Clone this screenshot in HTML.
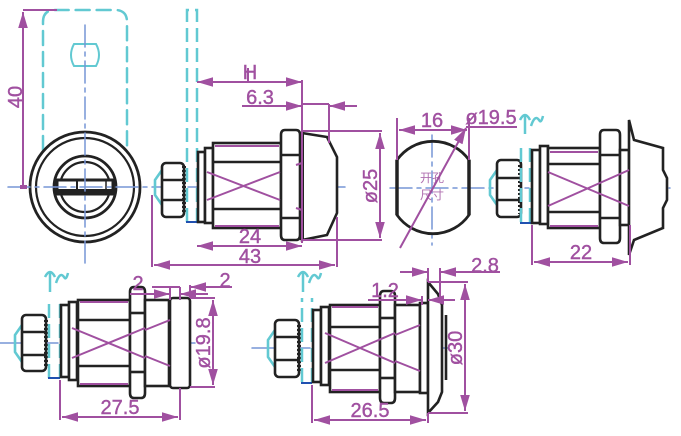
<!DOCTYPE html>
<html><head><meta charset="utf-8"><style>
html,body{margin:0;padding:0;background:#fff;}
svg{display:block}
text{font-family:"Liberation Sans","Noto Sans CJK SC",sans-serif;fill:#a050a0;stroke:#a050a0;stroke-width:0.4;}
</style></head><body>
<svg width="681" height="436" viewBox="0 0 681 436" xmlns="http://www.w3.org/2000/svg">
<defs>
<marker id="a" viewBox="0 0 10 6" refX="10" refY="3" markerWidth="8" markerHeight="5" orient="auto-start-reverse"><path d="M0,0L10,3L0,6z" fill="#a050a0"/></marker>
</defs>
<g fill="none" stroke-linecap="round">
<g stroke="#62c9d2" stroke-width="2.5" stroke-dasharray="14 7">
<path d="M43,150 V22 Q43,10 55,10 H115 Q127,10 127,22 V150"/>
</g>
<path d="M74,44 H96 Q102,55 96,66 H74 Q68,55 74,44 Z" stroke="#62c9d2" stroke-width="2"/>
<circle cx="85" cy="187" r="55" fill="#fff" stroke="#222" stroke-width="2.8"/>
<circle cx="85" cy="187" r="49" stroke="#222" stroke-width="2.2"/>
<circle cx="85" cy="187" r="31" stroke="#222" stroke-width="2.8"/>
<circle cx="85" cy="187" r="25" stroke="#222" stroke-width="2.2"/>
<rect x="57" y="180" width="56" height="14" fill="#fff" stroke="#222" stroke-width="3"/>
<line x1="57" y1="191" x2="113" y2="191" stroke="#222" stroke-width="4"/>
<line x1="77" y1="180" x2="77" y2="194" stroke="#222" stroke-width="2"/>
<line x1="106" y1="180" x2="106" y2="194" stroke="#222" stroke-width="1.5"/>
<g stroke="#7795d6" stroke-width="1.5" stroke-dasharray="22 5 4 5">
<line x1="85" y1="25" x2="85" y2="265"/>
<line x1="8" y1="187" x2="345" y2="187"/>
<line x1="390" y1="188" x2="670" y2="188"/>
<line x1="432" y1="135" x2="432" y2="245"/>
<line x1="0" y1="343" x2="195" y2="343"/>
<line x1="252" y1="348" x2="448" y2="348"/>
</g>
</g>

<g fill="none" stroke="#222" stroke-width="2.6">
<path d="M162,170 L155,180 V195 L162,205" stroke="#62c9d2"/>
<rect x="162" y="163" width="22" height="54" rx="4" fill="#fff"/>
<line x1="162" y1="180" x2="184" y2="180"/><line x1="162" y1="200" x2="184" y2="200"/>
<line x1="184" y1="166" x2="184" y2="214" stroke-width="4" stroke-dasharray="2 2"/>
</g>
<g fill="none" stroke="#62c9d2" stroke-width="2.5" stroke-dasharray="14 6">
<path d="M187,222 V10 H197 V222"/>
</g>
<line x1="186" y1="222" x2="197" y2="222" stroke="#2050b0" stroke-width="2"/>
<g fill="#fff" stroke="#222" stroke-width="2.6">
<rect x="198" y="152" width="7" height="70"/>
<rect x="205" y="148" width="8" height="75"/>
<rect x="213" y="143" width="68" height="85"/>
<line x1="213" y1="162" x2="281" y2="162"/><line x1="213" y1="209" x2="281" y2="209"/>
<path d="M285,130 H296 Q300,130 300,135 V235 Q300,240 296,240 H285 Q281,240 281,235 V135 Q281,130 285,130 Z"/>
<line x1="281" y1="155" x2="300" y2="155"/><line x1="281" y1="218" x2="300" y2="218"/>
<path d="M302,133 L327,137 L337,157 V213 L327,235 L302,240 Z"/>
<line x1="302" y1="133" x2="302" y2="240" stroke-width="4"/>
</g>
<g stroke="#a050a0" stroke-width="2" fill="none">
<line x1="215" y1="146" x2="279" y2="146"/><line x1="215" y1="226" x2="279" y2="226"/>
<line x1="207" y1="172" x2="280" y2="200"/><line x1="207" y1="200" x2="280" y2="172"/>
<line x1="296" y1="165" x2="302" y2="163"/><line x1="296" y1="208" x2="302" y2="210"/>
</g>

<!-- view 3 -->
<g fill="none" stroke="#222" stroke-width="2.6">
<path d="M497,170 L490,180 V195 L497,205" stroke="#62c9d2"/>
<rect x="497" y="160" width="24" height="57" rx="4" fill="#fff"/>
<line x1="497" y1="178" x2="521" y2="178"/><line x1="497" y1="200" x2="521" y2="200"/>
<line x1="520" y1="165" x2="520" y2="214" stroke-width="4" stroke-dasharray="2 2"/>
</g>
<g fill="none" stroke="#62c9d2" stroke-width="2.5">
<path d="M521,222 V142" stroke-dasharray="14 6"/><path d="M530,222 V142" stroke-dasharray="14 6"/>
<path d="M525,134 V114 M520,120 Q525,110 530,120 M531,126 Q535,114 539,120 Q541,124 543,116"/>
</g>
<line x1="520" y1="223" x2="531" y2="223" stroke="#2050b0" stroke-width="2"/>
<g fill="#fff" stroke="#222" stroke-width="2.6">
<rect x="532" y="150" width="8" height="73"/>
<rect x="540" y="146" width="8" height="78"/>
<rect x="548" y="148" width="52" height="80"/>
<line x1="548" y1="164" x2="600" y2="164"/><line x1="548" y1="212" x2="600" y2="212"/>
<path d="M604,130 H616 Q620,130 620,135 V238 Q620,243 616,243 H604 Q600,243 600,238 V135 Q600,130 604,130 Z"/>
<line x1="600" y1="155" x2="620" y2="155"/><line x1="600" y1="218" x2="620" y2="218"/>
<rect x="620" y="150" width="9" height="75"/>
<path d="M629,120 L634,140 L663,148 V170 L667,178 V200 L663,208 V228 L634,240 L629,255 Z"/>
</g>
<g stroke="#a050a0" stroke-width="2" fill="none">
<line x1="550" y1="152" x2="598" y2="152"/><line x1="550" y1="226" x2="598" y2="226"/>
<line x1="548" y1="172" x2="629" y2="206"/><line x1="548" y1="206" x2="629" y2="170"/>
</g>

<!-- BL -->
<g fill="none" stroke="#222" stroke-width="2.6">
<path d="M22,325 L15,335 V352 L22,362" stroke="#62c9d2"/>
<rect x="22" y="315" width="24" height="56" rx="4" fill="#fff"/>
<line x1="22" y1="332" x2="46" y2="332"/><line x1="22" y1="355" x2="46" y2="355"/>
<line x1="46" y1="320" x2="46" y2="366" stroke-width="4" stroke-dasharray="2 2"/>
</g>
<g fill="none" stroke="#62c9d2" stroke-width="2.5">
<path d="M49,378 V298" stroke-dasharray="14 6"/><path d="M60,378 V298" stroke-dasharray="14 6"/>
<path d="M50,292 V271 M45,277 Q50,267 55,277 M56,283 Q60,271 64,277 Q66,281 68,273"/>
</g>
<line x1="48" y1="378" x2="60" y2="378" stroke="#2050b0" stroke-width="2"/>
<g fill="#fff" stroke="#222" stroke-width="2.6">
<rect x="61" y="305" width="8" height="72"/>
<rect x="69" y="302" width="8" height="78"/>
<rect x="78" y="300" width="52" height="86"/>
<line x1="78" y1="320" x2="130" y2="320"/><line x1="78" y1="366" x2="130" y2="366"/>
<path d="M134,287 H141 Q145,287 145,292 V393 Q145,398 141,398 H134 Q130,398 130,393 V292 Q130,287 134,287 Z"/>
<line x1="130" y1="313" x2="145" y2="313"/><line x1="130" y1="372" x2="145" y2="372"/>
<rect x="145" y="300" width="24" height="86"/>
<rect x="170" y="298" width="20" height="90" rx="3"/>
</g>
<g stroke="#a050a0" stroke-width="2" fill="none">
<line x1="80" y1="302" x2="128" y2="302"/><line x1="80" y1="384" x2="128" y2="384"/>
<line x1="72" y1="328" x2="145" y2="358"/><line x1="72" y1="358" x2="145" y2="328"/>
<line x1="145" y1="330" x2="170" y2="320"/><line x1="145" y1="356" x2="170" y2="366"/>
</g>

<!-- BR -->
<g fill="none" stroke="#222" stroke-width="2.6">
<path d="M275,330 L268,340 V357 L275,367" stroke="#62c9d2"/>
<rect x="275" y="320" width="24" height="57" rx="4" fill="#fff"/>
<line x1="275" y1="337" x2="299" y2="337"/><line x1="275" y1="360" x2="299" y2="360"/>
<line x1="299" y1="325" x2="299" y2="372" stroke-width="4" stroke-dasharray="2 2"/>
</g>
<g fill="none" stroke="#62c9d2" stroke-width="2.5">
<path d="M302,382 V298" stroke-dasharray="14 6"/><path d="M312,382 V298" stroke-dasharray="14 6"/>
<path d="M303,292 V271 M298,277 Q303,267 308,277 M309,283 Q313,271 317,277 Q319,281 321,273"/>
</g>
<line x1="301" y1="383" x2="312" y2="383" stroke="#2050b0" stroke-width="2"/>
<g fill="#fff" stroke="#222" stroke-width="2.6">
<rect x="313" y="310" width="8" height="72"/>
<rect x="321" y="307" width="8" height="78"/>
<rect x="330" y="305" width="50" height="87"/>
<line x1="330" y1="327" x2="380" y2="327"/><line x1="330" y1="370" x2="380" y2="370"/>
<path d="M384,291 H391 Q395,291 395,296 V398 Q395,403 391,403 H384 Q380,403 380,398 V296 Q380,291 384,291 Z"/>
<line x1="380" y1="318" x2="395" y2="318"/><line x1="380" y1="378" x2="395" y2="378"/>
<rect x="395" y="305" width="25" height="87"/>
<rect x="420" y="303" width="8" height="90"/>
<path d="M428,282 L438,294 L442,305 V392 L438,402 L428,413 Z"/>
<line x1="446" y1="315" x2="446" y2="380"/>
</g>
<g stroke="#a050a0" stroke-width="2" fill="none">
<line x1="332" y1="307" x2="378" y2="307"/><line x1="332" y1="390" x2="378" y2="390"/>
<line x1="325" y1="333" x2="395" y2="363"/><line x1="325" y1="363" x2="395" y2="333"/>
<line x1="395" y1="335" x2="420" y2="325"/><line x1="395" y1="361" x2="420" y2="371"/>
</g>

<!-- hole view -->
<path d="M397,160 A44,44 0 0 1 469,160 V215 A44,44 0 0 1 397,215 Z" fill="none" stroke="#222" stroke-width="2.8"/>
<line x1="397" y1="160" x2="397" y2="215" stroke="#222" stroke-width="3.5"/>
<line x1="469" y1="160" x2="469" y2="215" stroke="#222" stroke-width="3.5"/>
<text x="432" y="182" font-size="12" text-anchor="middle" style="fill:#b070b0;stroke:none">开孔</text>
<text x="432" y="199" font-size="12" text-anchor="middle" style="fill:#b070b0;stroke:none">尺寸</text>

<g stroke="#a050a0" stroke-width="2" fill="none">
<line x1="23" y1="10" x2="57" y2="10"/>
<line x1="23" y1="12" x2="23" y2="185" marker-start="url(#a)"/>
<line x1="20" y1="187" x2="27" y2="187" stroke-width="4"/>
<line x1="197" y1="82" x2="302" y2="82" marker-start="url(#a)" marker-end="url(#a)"/>
<line x1="248" y1="68" x2="248" y2="82"/>
<line x1="302" y1="80" x2="302" y2="243"/>
<line x1="242" y1="106" x2="302" y2="106" marker-end="url(#a)"/>
<line x1="357" y1="106" x2="329" y2="106" marker-end="url(#a)"/>
<line x1="302" y1="104" x2="329" y2="104"/>
<line x1="329" y1="104" x2="329" y2="143"/>
<line x1="302" y1="131" x2="382" y2="131"/>
<line x1="302" y1="240" x2="382" y2="240"/>
<line x1="380" y1="133" x2="380" y2="238" marker-start="url(#a)" marker-end="url(#a)"/>
<line x1="197" y1="246" x2="302" y2="246" marker-start="url(#a)" marker-end="url(#a)"/>
<line x1="152" y1="195" x2="152" y2="267"/>
<line x1="337" y1="217" x2="337" y2="267"/>
<line x1="154" y1="265" x2="335" y2="265" marker-start="url(#a)" marker-end="url(#a)"/>
<line x1="397" y1="118" x2="397" y2="160"/>
<line x1="469" y1="118" x2="469" y2="160"/>
<line x1="399" y1="130" x2="467" y2="130" marker-start="url(#a)" marker-end="url(#a)"/>
<line x1="400" y1="248" x2="466" y2="128" marker-end="url(#a)"/>
<line x1="466" y1="127" x2="517" y2="127"/>
<line x1="532" y1="225" x2="532" y2="265"/>
<line x1="630" y1="225" x2="630" y2="265"/>
<line x1="534" y1="262" x2="628" y2="262" marker-start="url(#a)" marker-end="url(#a)"/>
<line x1="60" y1="380" x2="60" y2="420"/>
<line x1="180" y1="388" x2="180" y2="420"/>
<line x1="62" y1="417" x2="178" y2="417" marker-start="url(#a)" marker-end="url(#a)"/>
<line x1="190" y1="298" x2="215" y2="298"/><line x1="190" y1="387" x2="215" y2="387"/>
<line x1="213" y1="300" x2="213" y2="385" marker-start="url(#a)" marker-end="url(#a)"/>
<line x1="130" y1="294" x2="170" y2="294" marker-end="url(#a)"/>
<line x1="208" y1="294" x2="180" y2="294" marker-end="url(#a)"/>
<line x1="170" y1="288" x2="170" y2="300"/><line x1="180" y1="287" x2="180" y2="300"/>
<line x1="152" y1="287" x2="180" y2="287"/>
<line x1="232" y1="287" x2="190" y2="287" marker-end="url(#a)"/>
<line x1="190" y1="285" x2="190" y2="298"/>
<line x1="312" y1="385" x2="312" y2="423"/>
<line x1="428" y1="413" x2="428" y2="423"/>
<line x1="314" y1="420" x2="426" y2="420" marker-start="url(#a)" marker-end="url(#a)"/>
<line x1="428" y1="282" x2="468" y2="282"/><line x1="428" y1="413" x2="468" y2="413"/>
<line x1="465" y1="284" x2="465" y2="411" marker-start="url(#a)" marker-end="url(#a)"/>
<line x1="368" y1="300" x2="422" y2="300" marker-end="url(#a)"/>
<line x1="455" y1="300" x2="428" y2="300" marker-end="url(#a)"/>
<line x1="422" y1="296" x2="422" y2="305"/>
<line x1="400" y1="272" x2="428" y2="272" marker-end="url(#a)"/>
<line x1="500" y1="272" x2="440" y2="272" marker-end="url(#a)"/>
<line x1="428" y1="268" x2="428" y2="282"/><line x1="440" y1="268" x2="440" y2="300"/>
</g>

<g font-size="20">
<text x="0" y="0" transform="translate(22,97) rotate(-90)" text-anchor="middle">40</text>
<text x="250" y="79" text-anchor="middle">H</text>
<text x="260" y="104" text-anchor="middle">6.3</text>
<text x="0" y="0" transform="translate(377,186) rotate(-90)" text-anchor="middle">ø25</text>
<text x="250" y="243" text-anchor="middle">24</text>
<text x="250" y="263" text-anchor="middle">43</text>
<text x="432" y="127" text-anchor="middle">16</text>
<text x="491" y="124" text-anchor="middle">ø19.5</text>
<text x="581" y="259" text-anchor="middle">22</text>
<text x="485" y="272" text-anchor="middle">2.8</text>
<text x="138" y="290" text-anchor="middle">2</text>
<text x="225" y="287" text-anchor="middle">2</text>
<text x="120" y="414" text-anchor="middle">27.5</text>
<text x="0" y="0" transform="translate(210,343) rotate(-90)" text-anchor="middle">ø19.8</text>
<text x="385" y="297" text-anchor="middle">1.2</text>
<text x="370" y="417" text-anchor="middle">26.5</text>
<text x="0" y="0" transform="translate(462,348) rotate(-90)" text-anchor="middle">ø30</text>
</g>
</svg>
</body></html>
